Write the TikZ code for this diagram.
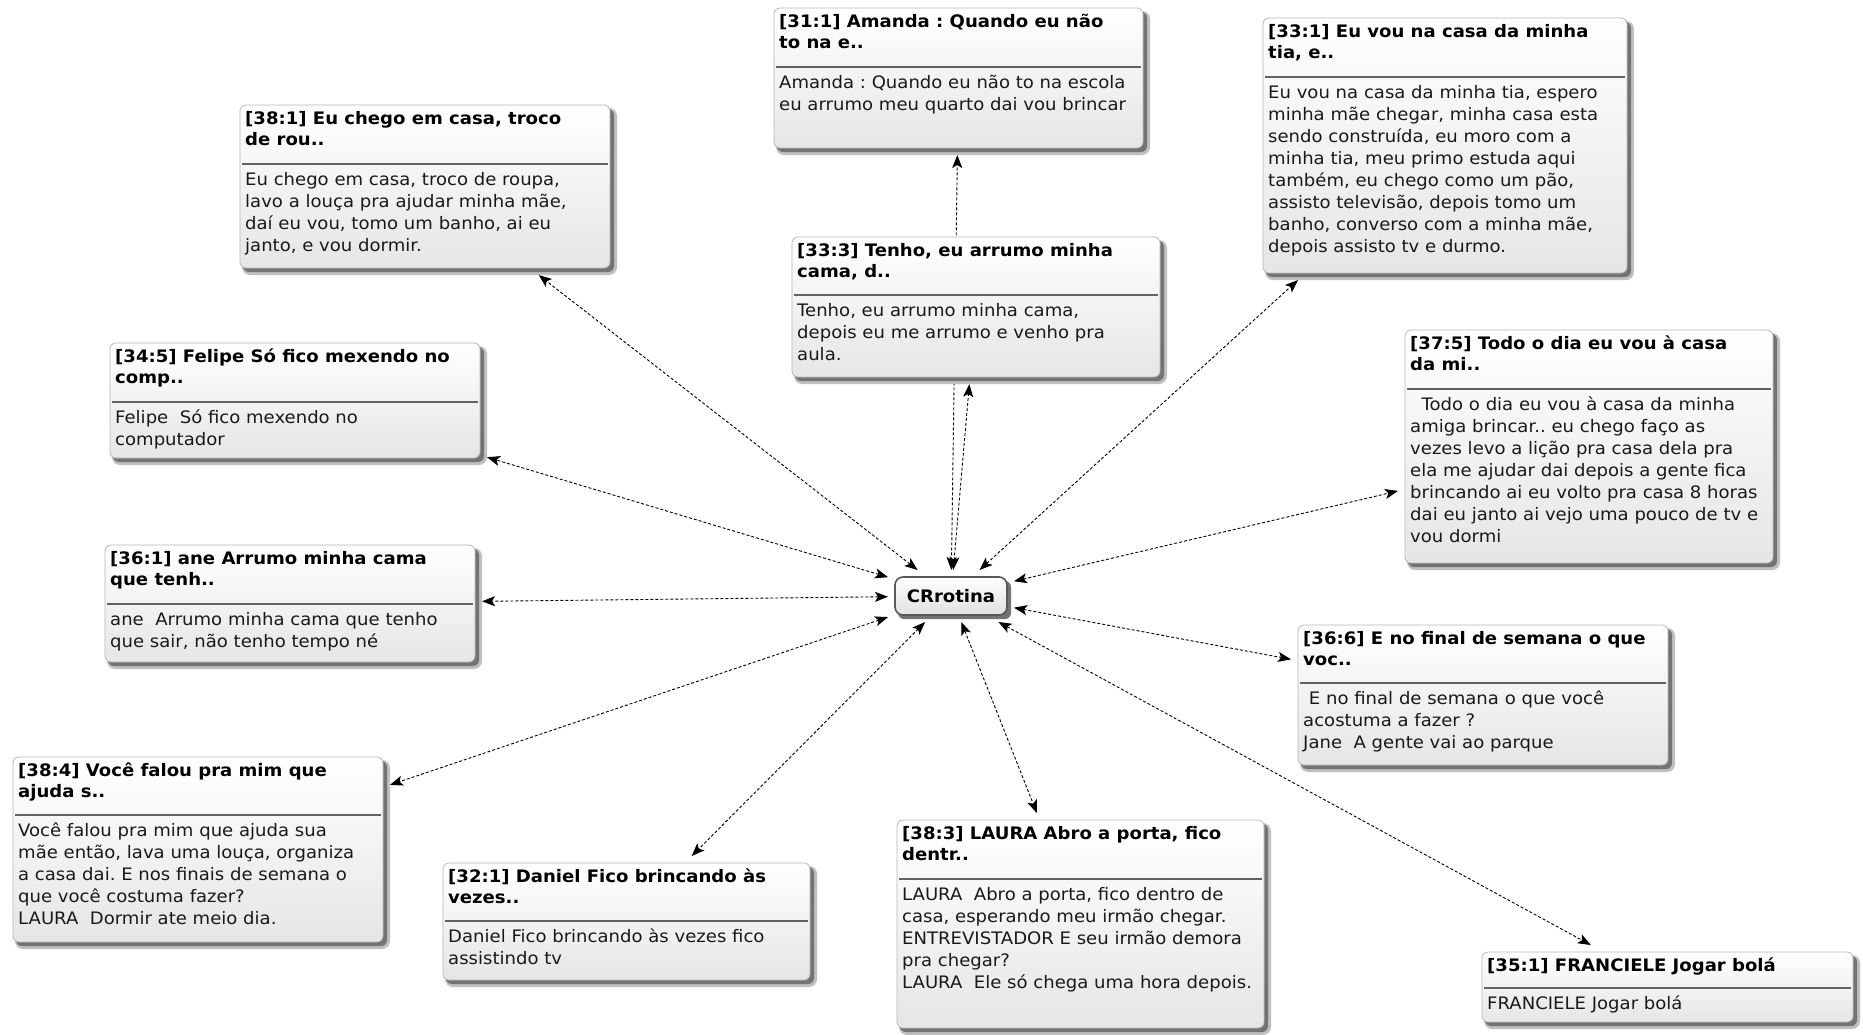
\documentclass[tikz,border=0pt]{standalone}
\usepackage{fontspec}
\setmainfont{DejaVu Sans}[FakeStretch=1.05]
\usetikzlibrary{arrows.meta}
\pgfdeclarelayer{bg}
\pgfsetlayers{bg,main}
\frenchspacing
\tikzset{
  cbox/.style={rectangle, rounded corners=6pt, draw=black!28, line width=0.8pt,
    top color=white, bottom color=black!10, inner sep=0pt, outer sep=7pt, anchor=center},
  shadowA/.style={fill=black!25, rounded corners=8pt},
  shadowB/.style={fill=black!55, rounded corners=6pt},
  sepline/.style={draw=black!62, line width=1.8pt},
  ttl/.style={font=\bfseries\fontsize{17.2}{21.5}\selectfont, align=left, inner sep=0pt,
    anchor=north west, text=black},
  bdy/.style={font=\fontsize{17.2}{22}\selectfont\frenchspacing, align=left, inner sep=0pt,
    anchor=north west, text=black!90},
  crbox/.style={rectangle, rounded corners=8pt, draw=black!65, line width=1.6pt,
    top color=white, bottom color=black!12, minimum width=112pt, minimum height=38pt,
    inner sep=0pt, outer sep=7pt, font=\bfseries\fontsize{17.2}{20}\selectfont},
  conn/.style={dash pattern=on 3pt off 2pt, line width=0.9pt,
    {Stealth[length=13pt,width=10pt,inset=3pt]}-{Stealth[length=13pt,width=10pt,inset=3pt]}},
}
% name, x1, y1, x2, y2, sepY, title, body
\newcommand\cbx[8]{%
  \fill[shadowA] (#2+2,#3+3) rectangle (#4+7,#5+7);
  \fill[shadowB] (#2+3,#3+4) rectangle (#4+4,#5+4);
  \node[cbox, minimum width={#4-#2}, minimum height={#5-#3}] (#1) at ({(#2+#4)/2},{(#3+#5)/2}) {};
  \draw[sepline] (#2+2,#6) -- (#4-2,#6);
  \node[ttl] at (#2+5,#3+2) {\rule{0pt}{17pt}\frenchspacing#7};
  \node[bdy] at (#2+5,#6+4) {\rule{0pt}{17pt}\frenchspacing#8};
}
\begin{document}
\begin{tikzpicture}[x=1pt,y=-1pt]
\useasboundingbox (0,0) rectangle (1863,1034);

\fill[shadowB] (898,581) rectangle (1011,619);
\node[crbox] (cr) at (951,596) {CRrotina};

\cbx{n311}{774}{8}{1143}{148}{67}
 {[31:1] Amanda : Quando eu não\\to na e..}
 {Amanda : Quando eu não to na escola\\eu arrumo meu quarto dai vou brincar}

\cbx{n381}{240}{105}{610}{268}{164}
 {[38:1] Eu chego em casa, troco\\de rou..}
 {Eu chego em casa, troco de roupa,\\lavo a louça pra ajudar minha mãe,\\daí eu vou, tomo um banho, ai eu\\janto, e vou dormir.}

\cbx{n331}{1263}{18}{1627}{273}{77}
 {[33:1] Eu vou na casa da minha\\tia, e..}
 {Eu vou na casa da minha tia, espero\\minha mãe chegar, minha casa esta\\sendo construída, eu moro com a\\minha tia, meu primo estuda aqui\\também, eu chego como um pão,\\assisto televisão, depois tomo um\\banho, converso com a minha mãe,\\depois assisto tv e durmo.}

\cbx{n333}{792}{237}{1160}{377}{295}
 {[33:3] Tenho, eu arrumo minha\\cama, d..}
 {Tenho, eu arrumo minha cama,\\depois eu me arrumo e venho pra\\aula.}

\cbx{n345}{110}{343}{480}{458}{402}
 {[34:5] Felipe Só fico mexendo no\\comp..}
 {Felipe\ \ Só fico mexendo no\\computador}

\cbx{n375}{1405}{330}{1773}{563}{389}
 {[37:5] Todo o dia eu vou à casa\\da mi..}
 {\ \ Todo o dia eu vou à casa da minha\\amiga brincar.. eu chego faço as\\vezes levo a lição pra casa dela pra\\ela me ajudar dai depois a gente fica\\brincando ai eu volto pra casa 8 horas\\dai eu janto ai vejo uma pouco de tv e\\vou dormi}

\cbx{n361}{105}{545}{475}{662}{604}
 {[36:1] ane Arrumo minha cama\\que tenh..}
 {ane\ \ Arrumo minha cama que tenho\\que sair, não tenho tempo né}

\cbx{n366}{1298}{625}{1668}{765}{683}
 {[36:6] E no final de semana o que\\voc..}
 {\ E no final de semana o que você\\acostuma a fazer ?\\Jane\ \ A gente vai ao parque}

\cbx{n384}{13}{757}{383}{942}{815}
 {[38:4] Você falou pra mim que\\ajuda s..}
 {Você falou pra mim que ajuda sua\\mãe então, lava uma louça, organiza\\a casa dai. E nos finais de semana o\\que você costuma fazer?\\LAURA\ \ Dormir ate meio dia.}

\cbx{n321}{443}{863}{810}{980}{921}
 {[32:1] Daniel Fico brincando às\\vezes..}
 {Daniel Fico brincando às vezes fico\\assistindo tv}

\cbx{n383}{897}{820}{1264}{1028}{879}
 {[38:3] LAURA Abro a porta, fico\\dentr..}
 {LAURA\ \ Abro a porta, fico dentro de\\casa, esperando meu irmão chegar.\\ENTREVISTADOR E seu irmão demora\\pra chegar?\\LAURA\ \ Ele só chega uma hora depois.}

\cbx{n351}{1482}{952}{1853}{1022}{988}
 {[35:1] FRANCIELE Jogar bolá}
 {FRANCIELE Jogar bolá}

\begin{pgfonlayer}{bg}
\fill[white] (0,0) rectangle (1863,1034);
\foreach \n in {n311,n381,n331,n333,n345,n375,n361,n366,n384,n321,n383,n351}
  \draw[conn] (cr) -- (\n);
\end{pgfonlayer}
\end{tikzpicture}
\end{document}
